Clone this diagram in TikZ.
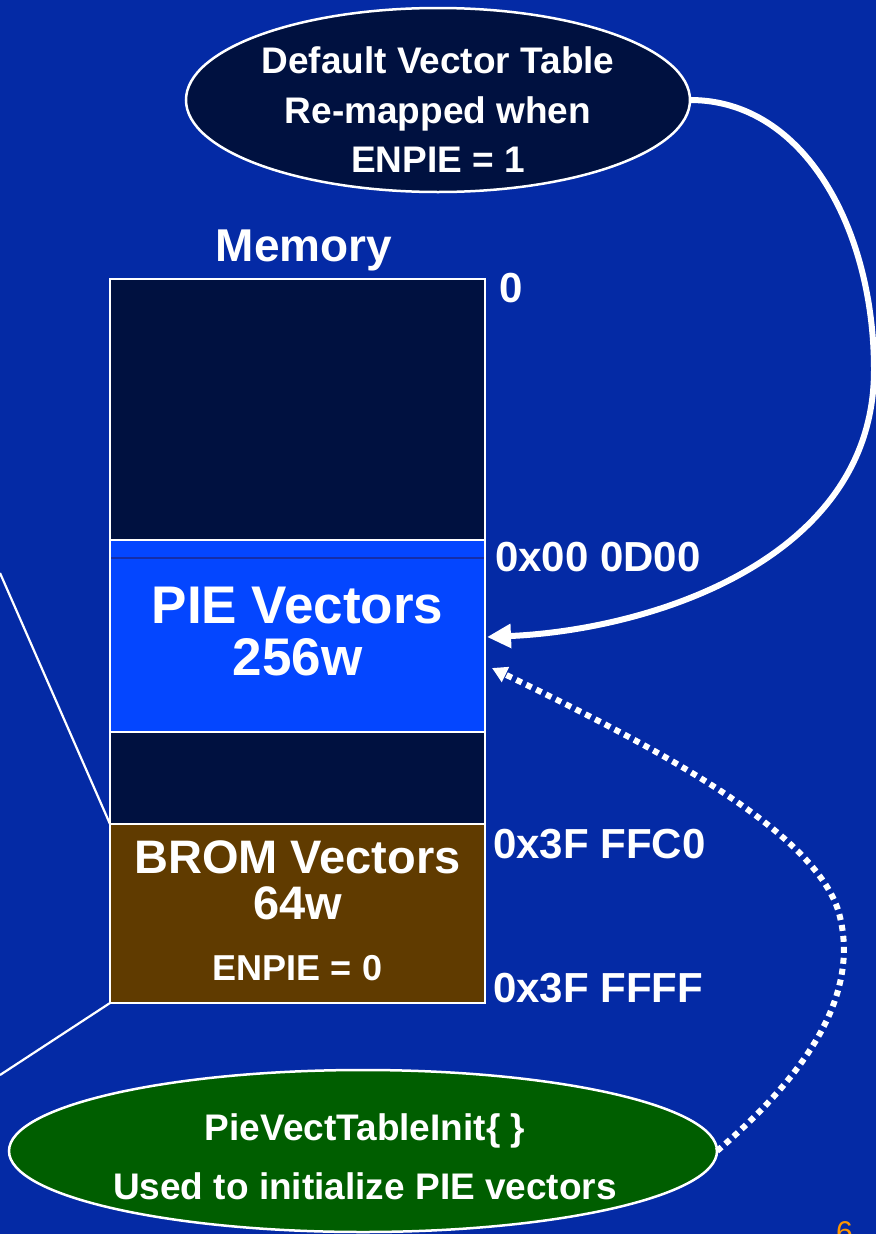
\documentclass[tikz,border=0pt]{standalone}
\usepackage{fontspec}
\setmainfont{Liberation Sans}
\usepackage{tikz}
\usetikzlibrary{positioning, arrows.meta, shapes.geometric}
\usepackage{xcolor}
\definecolor{bgblue}{RGB}{4,42,165}
\definecolor{navy}{RGB}{0,17,64}
\definecolor{pieblue}{RGB}{4,70,255}
\definecolor{piedark}{RGB}{20,45,170}
\definecolor{brombrown}{RGB}{96,59,0}
\definecolor{initgreen}{RGB}{0,94,0}
\definecolor{pgnum}{RGB}{255,150,0}

\begin{document}
\begin{tikzpicture}[
                  x=1pt, y=-1pt,
                  every node/.append style={text=white, font=\bfseries, inner sep=0pt, outer sep=0pt},
                  memblk/.style={draw=white, line width=2pt, minimum width=375pt, anchor=north west},
                  addr/.style={anchor=base west, font=\bfseries\fontsize{42}{48}\selectfont},
                  note/.style={ellipse, draw=white, line width=2.5pt},
                  remap/.style={-{Triangle[length=24pt, width=23pt]}, white, line width=6pt},
                  initarr/.style={-{Triangle[length=15pt, width=16pt]}, white, line width=6pt,
                                  dash pattern=on 6pt off 5pt},
                  link/.style={white, line width=2.2pt},
            ]
            \fill[bgblue] (0,0) rectangle (876,1234);
            \useasboundingbox (0,0) rectangle (876,1234);

            % Column: memory map, top to bottom
            \node[memblk, fill=navy, minimum height=261pt] (lowmem) at (110,279) {};
            \node[memblk, fill=pieblue, minimum height=192pt, below=0pt of lowmem] (pie) {};
            \node[memblk, fill=navy, minimum height=92pt, below=0pt of pie] (gap) {};
            \node[memblk, fill=brombrown, minimum height=179pt, below=0pt of gap] (brom) {};
            \draw[piedark, line width=1.5pt] ([yshift=-18pt, xshift=1pt]pie.north west)
                  -- ([yshift=-18pt, xshift=-1pt]pie.north east);

            % Block texts
            \node[font=\bfseries\fontsize{46}{50}\selectfont, anchor=base] (memtitle) at (304,261) {Memory};
            \node[align=center, font=\bfseries\fontsize{53}{52}\selectfont] (pietxt) at (297.5,632)
                  {PIE Vectors\\256w};
            \node[align=center, font=\bfseries\fontsize{47}{46}\selectfont] (bromtxt) at (297.5,880)
                  {BROM Vectors\\64w};
            \node[font=\bfseries\fontsize{36}{40}\selectfont] (bromflag) at (297.5,968) {ENPIE = 0};

            % Addresses
            \node[addr] (a0) at (499,302) {0};
            \node[addr] (apie) at (495,571) {0x00 0D00};
            \node[addr] (abrom) at (493,858) {0x3F FFC0};
            \node[addr] (aend) at (493,1002) {0x3F FFFF};

            % Top note
            \node[note, fill=navy, minimum width=504pt, minimum height=184pt] (vectab) at (438,100) {};
            \node[align=center, font=\bfseries\fontsize{37}{49.5}\selectfont] (vectabtxt) at (438,110)
                  {Default Vector Table\\Re-mapped when\\ENPIE = 1};

            % Bottom note
            \node[note, fill=initgreen, minimum width=708pt, minimum height=162pt] (initbox) at (363,1151) {};
            \node[anchor=base, font=\bfseries\fontsize{37}{40}\selectfont] (initname) at (365,1140)
                  {PieVectTableInit\{ \}};
            \node[anchor=base, font=\bfseries\fontsize{37}{42}\selectfont] (initnote) at (365,1199)
                  {Used to initialize PIE vectors};

            % Page number
            \node[anchor=base west, text=pgnum, font=\fontsize{30}{30}\selectfont] (pgno) at (836,1242) {6};

            % Connectors
            \coordinate (remapin) at (487,637);
            \coordinate (initin) at (492,668);
            \coordinate (leftup) at (0,573);
            \coordinate (leftdn) at (0,1075);
            \draw[remap] (vectab.east) .. controls (805,100) and (874,230) .. (874,370)
                  .. controls (874,560) and (650,630) .. (remapin);
            \draw[initarr] (initbox.east) .. controls (800,1080) and (860,1000) .. (840,917)
                  .. controls (820,830) and (640,740) .. (initin);
            \draw[link] (leftup) -- (brom.north west);
            \draw[link] (brom.south west) -- (leftdn);

      \end{tikzpicture}
\end{document}
